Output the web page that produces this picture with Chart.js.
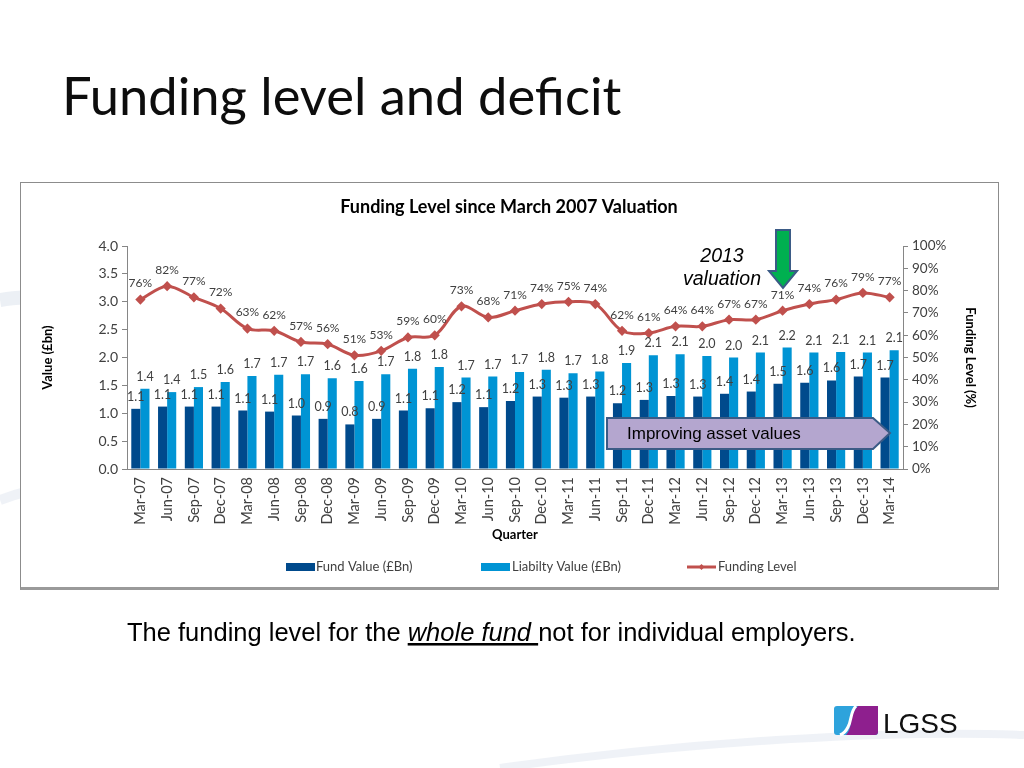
<!DOCTYPE html>
<html>
<head>
<meta charset="utf-8">
<script src="https://cdn.jsdelivr.net/npm/chart.js@4/dist/chart.umd.min.js"></script>
<style>
  html, body { margin:0; padding:0; background:#fff; }
  body { width:1024px; height:768px; position:relative; overflow:hidden; font-family:"Liberation Sans", Arial, sans-serif; }
  #frame { position:absolute; left:20px; top:182px; width:977px; height:404px; border:1px solid #8c8c8c; border-bottom:3px solid #9a9a9a; background:#fff; }
  #c { position:absolute; left:21px; top:183px; }
  #overlay { position:absolute; left:0; top:0; pointer-events:none; }
</style>
</head>
<body>
<svg id="bg" width="1024" height="768" style="position:absolute;left:0;top:0">
  <path d="M0,300 C60,290 200,300 420,330" stroke="#dfe6ee" stroke-width="14" fill="none" opacity="0.6"/>
  <path d="M0,500 C80,470 200,470 380,490" stroke="#e4eaf1" stroke-width="10" fill="none" opacity="0.6"/>
  <path d="M500,768 C700,740 900,730 1024,735" stroke="#e8edf3" stroke-width="8" fill="none" opacity="0.7"/>
</svg>
<div id="frame"></div>
<canvas id="c" width="977" height="404"></canvas>
<svg id="overlay" width="1024" height="768">
  <text x="62" y="115" font-family="Lato, 'Open Sans', sans-serif" font-size="52.5" fill="#0d0d0d">Funding level and deficit</text>
  <!-- 2013 valuation -->
  <text x="722" y="262" text-anchor="middle" font-family="'Liberation Sans', Arial, sans-serif" font-style="italic" font-size="19.5" fill="#000">2013</text>
  <text x="722" y="285" text-anchor="middle" font-family="'Liberation Sans', Arial, sans-serif" font-style="italic" font-size="19.5" fill="#000">valuation</text>
  <path d="M776,230 L790,230 L790,271 L797,271 L783,288 L769,271 L776,271 Z" fill="#00b050" stroke="#3b5b86" stroke-width="2"/>
  <!-- improving asset values -->
  <path d="M607,418 L873,418 L890,433 L873,449 L607,449 Z" fill="#b4a6cf" stroke="#3b5b86" stroke-width="2"/>
  <text x="627" y="439" font-family="'Liberation Sans', Arial, sans-serif" font-size="17" fill="#000">Improving asset values</text>
  <!-- bottom text -->
  <text x="127" y="641" font-family="'Liberation Sans', Arial, sans-serif" font-size="25.5" fill="#000">The funding level for the <tspan font-style="italic" text-decoration="underline">whole fund </tspan>not for individual employers.</text>
  <!-- logo -->
  <rect x="834" y="706" width="44" height="29" rx="3" fill="#2ea3dc"/>
  <path d="M858,706 L878,706 Q878,706 878,709 L878,732 Q878,735 875,735 L846,735 C852,728 850,722 852,716 C854,711 856,708 858,706 Z" fill="#8e1f8e"/>
  <path d="M856,706 C850,712 852,720 848,727 C846,731 843,734 840,735" stroke="#fff" stroke-width="3" fill="none"/>
  <text x="883" y="733" font-family="'Liberation Sans', Arial, sans-serif" font-size="28" fill="#111">LGSS</text>
</svg>
<script>
const quarters = ["Mar-07","Jun-07","Sep-07","Dec-07","Mar-08","Jun-08","Sep-08","Dec-08","Mar-09","Jun-09","Sep-09","Dec-09","Mar-10","Jun-10","Sep-10","Dec-10","Mar-11","Jun-11","Sep-11","Dec-11","Mar-12","Jun-12","Sep-12","Dec-12","Mar-13","Jun-13","Sep-13","Dec-13","Mar-14"];
const fundValue = [1.08,1.12,1.12,1.12,1.05,1.03,0.96,0.90,0.80,0.90,1.05,1.09,1.20,1.11,1.22,1.30,1.28,1.30,1.18,1.24,1.31,1.30,1.35,1.39,1.53,1.55,1.59,1.66,1.64];
const liabilityValue = [1.44,1.38,1.47,1.56,1.67,1.69,1.70,1.63,1.58,1.70,1.80,1.83,1.64,1.66,1.74,1.78,1.72,1.75,1.90,2.04,2.06,2.03,2.00,2.09,2.18,2.09,2.10,2.09,2.13];
const fundLabels = ["1.1","1.1","1.1","1.1","1.1","1.1","1.0","0.9","0.8","0.9","1.1","1.1","1.2","1.1","1.2","1.3","1.3","1.3","1.2","1.3","1.3","1.3","1.4","1.4","1.5","1.6","1.6","1.7","1.7"];
const liabilityLabels = ["1.4","1.4","1.5","1.6","1.7","1.7","1.7","1.6","1.6","1.7","1.8","1.8","1.7","1.7","1.7","1.8","1.7","1.8","1.9","2.1","2.1","2.0","2.0","2.1","2.2","2.1","2.1","2.1","2.1"];
const fundingLevel = [76,82,77,72,63,62,57,56,51,53,59,60,73,68,71,74,75,74,62,61,64,64,67,67,71,74,76,79,77];
const leftTicks = [0,0.5,1,1.5,2,2.5,3,3.5,4];
const rightTicks = [0,10,20,30,40,50,60,70,80,90,100];

const FONT = "Lato, 'Open Sans', sans-serif";
const AXIS = '#868686';
const TXT = '#404040';

const labelPlugin = {
  id: 'valueLabels',
  afterDatasetsDraw(chart) {
    const ctx = chart.ctx;
    ctx.save();
    ctx.fillStyle = TXT;
    ctx.textAlign = 'center';
    ctx.textBaseline = 'middle';
    chart.data.datasets.forEach((ds, i) => {
      const meta = chart.getDatasetMeta(i);
      meta.data.forEach((el, j) => {
        if (ds.type === 'line') {
          ctx.font = "12px " + FONT;
          ctx.fillText(ds.data[j] + '%', el.x, el.y - 16);
        } else {
          ctx.font = "12.5px " + FONT;
          ctx.fillText(ds.labelsText[j], el.x, el.y - 12);
        }
      });
    });
    ctx.restore();
  }
};

// legend drawn by a small plugin (positions of items in canvas pixels)
const legendItems = [
  { ds:1, kind:'box', x:265, w:29, tx:295 },
  { ds:2, kind:'box', x:460, w:29, tx:491 },
  { ds:0, kind:'line', x:666, w:29, tx:697 }
];
const legendPlugin = {
  id: 'customLegend',
  afterDraw(chart) {
    const ctx = chart.ctx;
    const y = 384;
    ctx.save();
    ctx.font = "13px " + FONT;
    ctx.textBaseline = 'middle';
    ctx.textAlign = 'left';
    legendItems.forEach(it => {
      const ds = chart.data.datasets[it.ds];
      if (it.kind === 'box') {
        ctx.fillStyle = ds.backgroundColor;
        ctx.fillRect(it.x, y - 4, it.w, 8);
      } else {
        ctx.strokeStyle = ds.borderColor;
        ctx.lineWidth = 3;
        ctx.beginPath(); ctx.moveTo(it.x, y); ctx.lineTo(it.x + it.w, y); ctx.stroke();
        ctx.fillStyle = ds.borderColor;
        ctx.beginPath(); ctx.moveTo(it.x + it.w/2, y - 3); ctx.lineTo(it.x + it.w/2 + 3, y); ctx.lineTo(it.x + it.w/2, y + 3); ctx.lineTo(it.x + it.w/2 - 3, y); ctx.closePath(); ctx.fill();
      }
      ctx.fillStyle = TXT;
      ctx.fillText(ds.label, it.tx, y);
    });
    ctx.restore();
  }
};

new Chart(document.getElementById('c'), {
  data: {
    labels: quarters,
    datasets: [
      { type:'line', label:'Funding Level', data: fundingLevel, yAxisID:'y1', borderColor:'#c0504d', backgroundColor:'#c0504d', borderWidth:3, tension:0.35, pointStyle:'rectRot', pointRadius:3, pointBackgroundColor:'#c0504d', pointBorderColor:'#c0504d', order:0 },
      { type:'bar', label:'Fund Value (£Bn)', data: fundValue, labelsText: fundLabels, yAxisID:'y', backgroundColor:'#004a8c', categoryPercentage:0.68, barPercentage:1.0, order:1 },
      { type:'bar', label:'Liabilty Value (£Bn)', data: liabilityValue, labelsText: liabilityLabels, yAxisID:'y', backgroundColor:'#0094d4', categoryPercentage:0.68, barPercentage:1.0, order:1 }
    ]
  },
  options: {
    responsive:false,
    animation:false,
    devicePixelRatio:1,
    layout: { padding: { left:15, right:16, top:0, bottom:40 } },
    plugins: {
      tooltip: { enabled:false },
      legend: { display:false },
      title: { display:true, text:'Funding Level since March 2007 Valuation', color:'#000', font:{ family:FONT, size:18, weight:'bold' }, padding:{ top:13, bottom:28.5 } }
    },
    scales: {
      x: {
        afterFit(s) { s.height = 78; },
        grid: { display:false },
        border: { color:AXIS },
        ticks: { color:TXT, font:{ family:FONT, size:14.5 }, minRotation:90, maxRotation:90, autoSkip:false, padding:0 },
        title: { display:true, text:'Quarter', color:'#000', font:{ family:FONT, size:13, weight:'bold' }, padding:{ top:6, bottom:4 } }
      },
      y: {
        position:'left', min:0, max:4,
        afterBuildTicks(s) { s.ticks = leftTicks.map(v => ({ value:v })); },
        afterFit(s) { s.width = 91; },
        grid: { drawOnChartArea:false, color:AXIS, tickLength:5 },
        border: { color:AXIS },
        ticks: { color:TXT, font:{ family:FONT, size:14 }, callback: v => Number(v).toFixed(1), padding:4 },
        title: { display:true, text:'Value (£bn)', color:'#000', font:{ family:FONT, size:13, weight:'bold' }, padding:{ top:4, bottom:4 } }
      },
      y1: {
        position:'right', min:0, max:100,
        afterBuildTicks(s) { s.ticks = rightTicks.map(v => ({ value:v })); },
        afterFit(s) { s.width = 79; },
        grid: { drawOnChartArea:false, color:AXIS, tickLength:5 },
        border: { color:AXIS },
        ticks: { color:TXT, font:{ family:FONT, size:13.5 }, callback: v => v + '%', padding:4 },
        title: { display:true, text:'Funding Level (%)', color:'#000', font:{ family:FONT, size:13, weight:'bold' }, padding:{ top:4, bottom:4 } }
      }
    }
  },
  plugins:[labelPlugin, legendPlugin]
});
</script>
</body>
</html>
